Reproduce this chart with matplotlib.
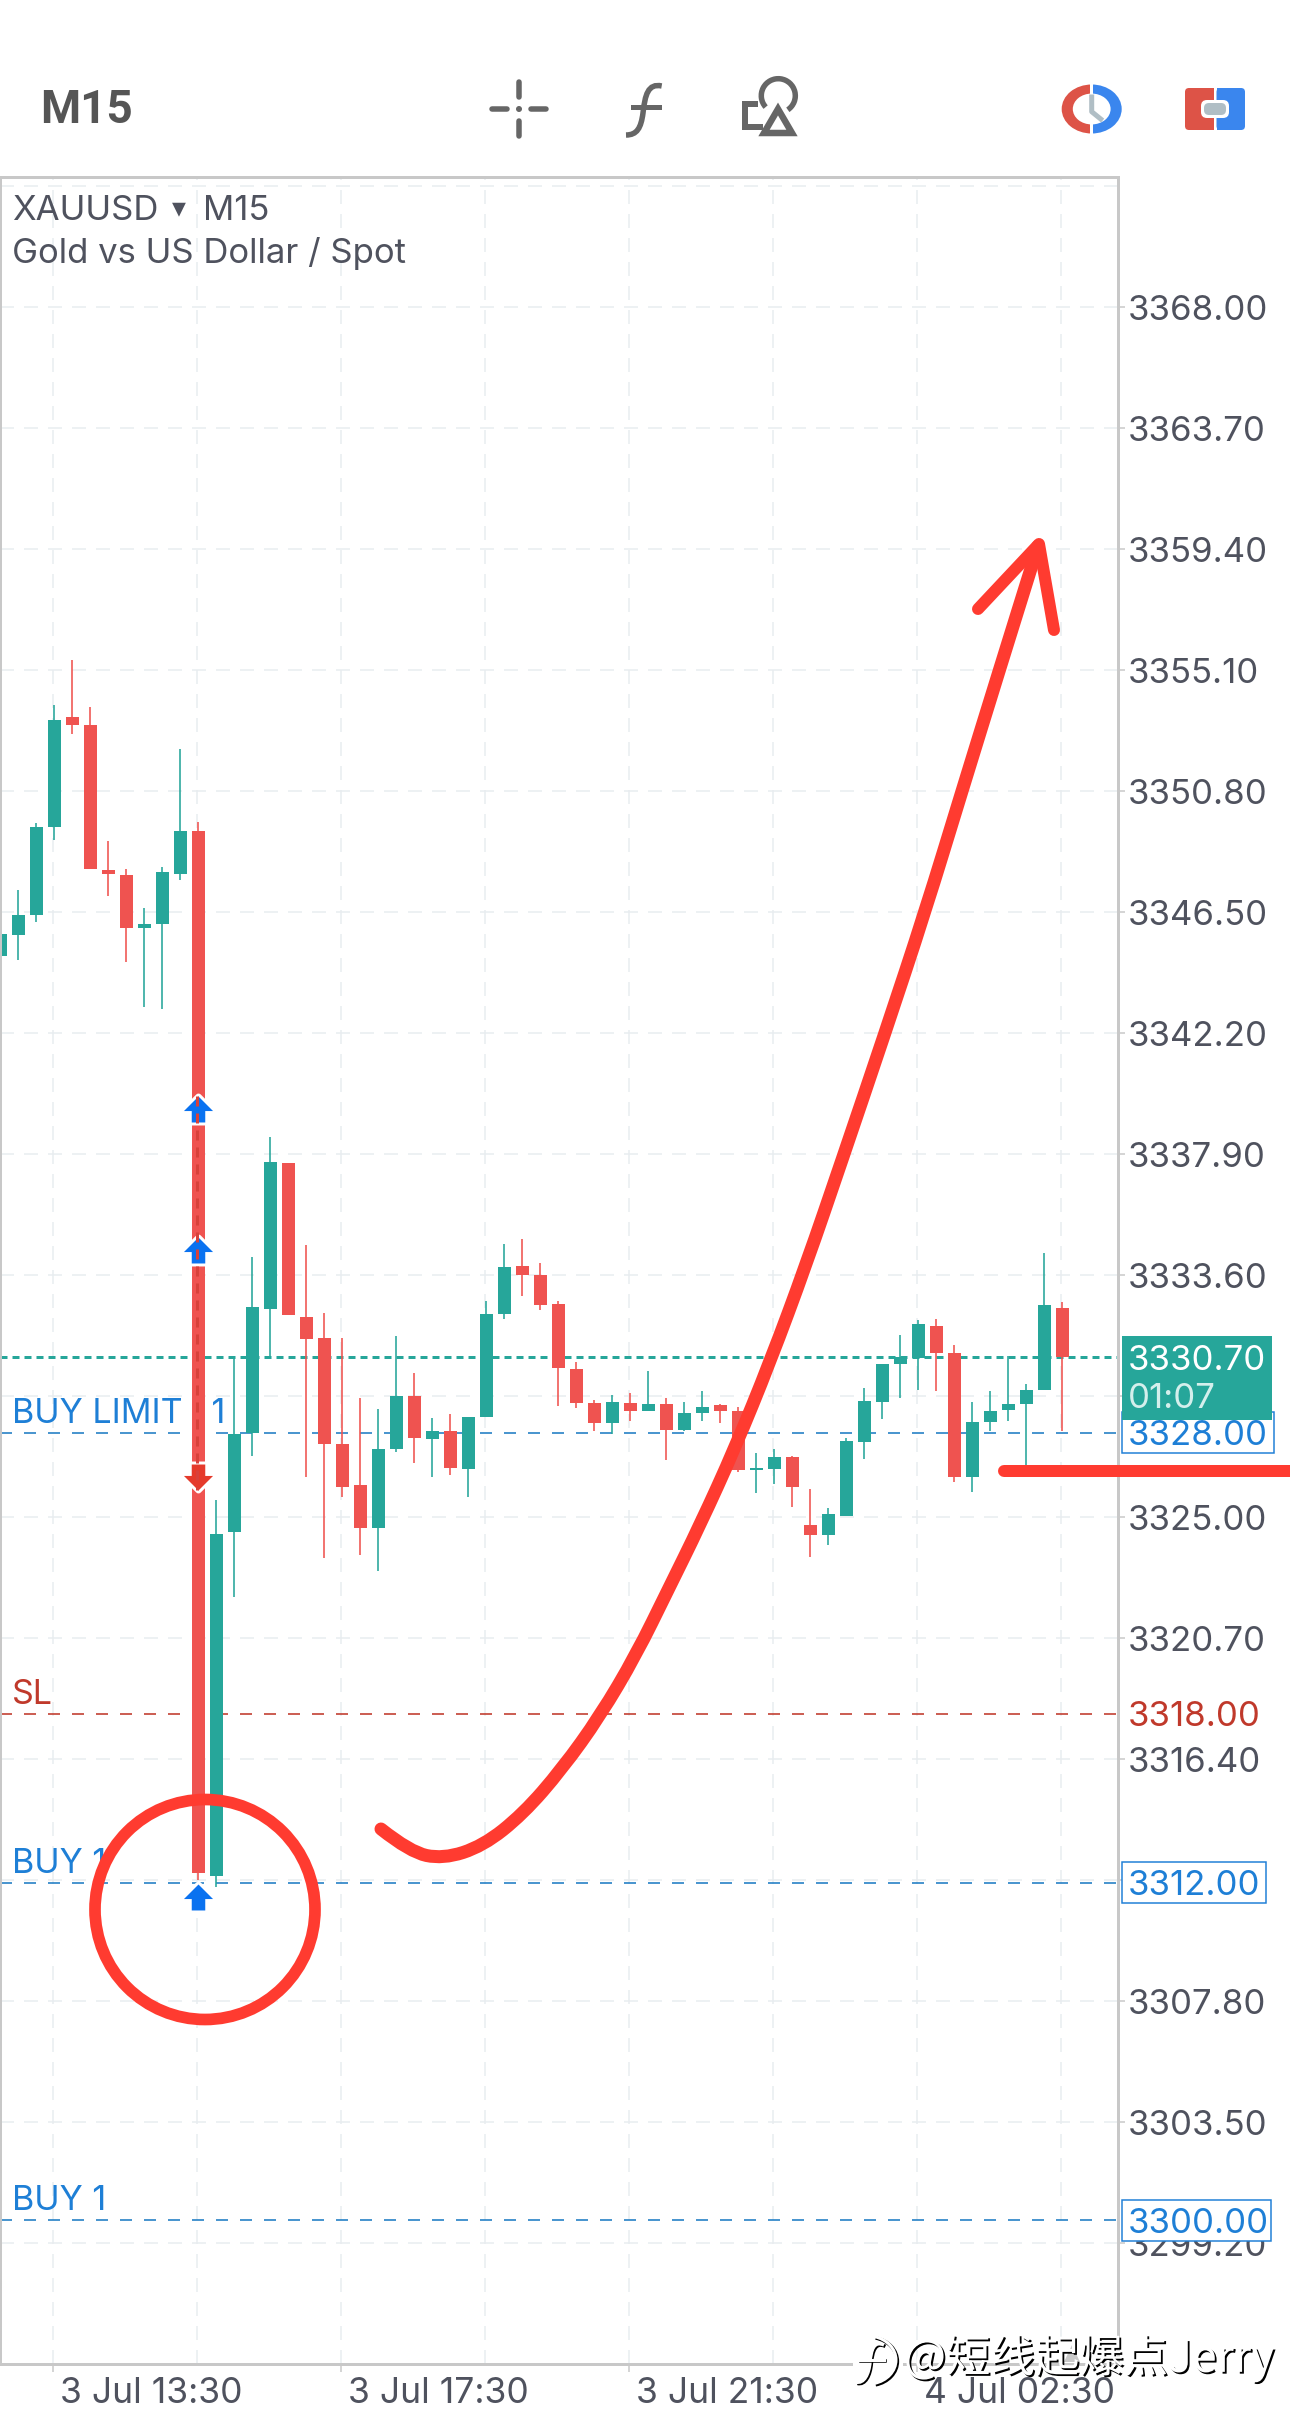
# XAUUSD M15 phone screenshot, candles plus the hand drawn red marks on top
import matplotlib
matplotlib.use("Agg")
import matplotlib.pyplot as plt
import matplotlib.patheffects as pe
import matplotlib.transforms as mtransforms
from matplotlib.patches import Rectangle, Circle, Arc, Polygon, PathPatch, Wedge, FancyBboxPatch
from matplotlib.path import Path

plt.rcParams['font.family'] = ['Inter', 'Noto Sans CJK SC', 'DejaVu Sans']
plt.rcParams['lines.scale_dashes'] = False

# candles, one per 15 minutes
opens = [3344.95, 3345.69, 3346.40, 3349.53, 3353.43, 3353.15, 3347.99, 3347.81, 3345.93, 3346.08,
         3347.85, 3349.38, 3312.25, 3324.48, 3327.97, 3332.40, 3337.58, 3332.11, 3331.36, 3327.59,
         3326.14, 3324.62, 3327.43, 3329.30, 3327.78, 3328.06, 3326.72, 3328.56, 3332.22, 3333.92,
         3333.60, 3332.57, 3330.26, 3329.05, 3328.35, 3329.05, 3328.78, 3329.02, 3328.10, 3328.71,
         3328.98, 3328.77, 3326.68, 3326.72, 3327.13, 3324.72, 3324.37, 3325.05, 3327.68, 3329.10,
         3330.45, 3330.64, 3331.79, 3330.83, 3326.43, 3328.39, 3328.81, 3329.03, 3329.52, 3332.43]
highs = [3346.04, 3347.28, 3349.67, 3353.86, 3355.46, 3353.80, 3349.03, 3348.04, 3346.64, 3348.11,
         3352.29, 3349.71, 3325.60, 3330.70, 3334.25, 3338.49, 3337.58, 3334.67, 3332.26, 3331.35,
         3329.23, 3328.84, 3331.43, 3330.11, 3328.53, 3328.66, 3328.55, 3332.68, 3334.70, 3334.89,
         3334.04, 3332.68, 3330.51, 3329.16, 3329.34, 3329.40, 3330.20, 3329.23, 3329.09, 3329.49,
         3329.02, 3328.92, 3327.26, 3327.41, 3327.17, 3326.01, 3325.32, 3327.81, 3329.58, 3330.44,
         3331.47, 3332.00, 3332.04, 3331.11, 3329.09, 3329.49, 3330.72, 3329.73, 3334.37, 3332.64]
lows = [3344.79, 3344.79, 3346.14, 3349.06, 3352.83, 3348.02, 3347.08, 3344.72, 3343.12, 3343.04,
        3347.64, 3312.10, 3311.85, 3322.16, 3327.18, 3330.70, 3332.19, 3326.41, 3323.53, 3325.70,
        3323.66, 3323.09, 3327.32, 3326.91, 3326.43, 3326.49, 3325.70, 3328.56, 3332.05, 3332.85,
        3332.36, 3328.94, 3328.88, 3328.07, 3327.94, 3328.40, 3328.78, 3327.03, 3328.05, 3328.40,
        3328.35, 3326.61, 3325.84, 3326.17, 3325.37, 3323.57, 3323.99, 3325.05, 3327.07, 3328.49,
        3329.24, 3329.51, 3329.49, 3326.25, 3325.90, 3328.07, 3328.42, 3326.85, 3329.52, 3328.07]
closes = [3345.71, 3346.39, 3349.52, 3353.32, 3353.15, 3348.04, 3347.85, 3345.94, 3346.07, 3347.92,
          3349.38, 3312.36, 3324.40, 3327.95, 3332.46, 3337.62, 3332.19, 3331.34, 3327.60, 3326.08,
          3324.62, 3327.42, 3329.30, 3327.82, 3328.06, 3326.75, 3328.55, 3332.21, 3333.88, 3333.61,
          3332.54, 3330.31, 3329.06, 3328.35, 3329.09, 3328.78, 3329.02, 3328.10, 3328.70, 3328.91,
          3328.78, 3326.68, 3326.73, 3327.13, 3326.08, 3324.37, 3325.11, 3327.70, 3329.12, 3330.44,
          3330.69, 3331.86, 3330.84, 3326.43, 3328.38, 3328.77, 3329.02, 3329.51, 3332.53, 3330.70]

price_ticks = [3372.30, 3368.00, 3363.70, 3359.40, 3355.10, 3350.80, 3346.50, 3342.20, 3337.90, 3333.60,
               3329.30, 3325.00, 3320.70, 3316.40, 3312.10, 3307.80, 3303.50, 3299.20]
# 3372.30, 3329.30 and 3312.10 sit behind the frame and the price tags in the screenshot
price_labels = ['', '3368.00', '3363.70', '3359.40', '3355.10', '3350.80', '3346.50', '3342.20', '3337.90',
                '3333.60', '', '3325.00', '3320.70', '3316.40', '', '3307.80', '3303.50', '3299.20']
time_ticks = [2.95, 18.95, 34.95, 50.95]
time_labels = ['3 Jul 13:30', '3 Jul 17:30', '3 Jul 21:30', '4 Jul 02:30']
time_minor = [10.95, 26.95, 42.95, 58.95]

last_price = 3330.70
order_prices = [3328.00, 3318.00, 3312.00, 3300.00]
# extra spaces keep the 1 clear of the long candle, as the app's wide tracking does
order_names = ['BUY LIMIT   1', 'SL', 'BUY 1', 'BUY 1']
order_colors = ['#1f7cc4', '#c0392b', '#1f7cc4', '#1f7cc4']

trade_bar = 11
buy_arrow_prices = [3339.96, 3334.94, 3311.96]
sell_arrow_prices = [3325.96]

UP = '#26a69a'
DOWN = '#ef5350'
GREY = '#c8c8c8'
INK = '#4f525e'
MARK = '#ff3b30'
ICON = '#666666'
TAG = '#1e7fd6'
PX = 0.72  # one picture pixel in points, at dpi 100

fig = plt.figure(figsize=(12.9, 24.3), dpi=100, facecolor='white')
ax = fig.add_axes([0, 1 - 2364 / 2430, 1118 / 1290, (2364 - 177) / 2430])
ax.set_xlim(-0.3 / 18, 1117.7 / 18)
ax.set_ylim(3294.90, 3372.62)

# grid and axes
ax.set_axisbelow(True)
ax.set_yticks(price_ticks)
ax.set_yticklabels(price_labels)
ax.set_xticks(time_ticks)
ax.set_xticklabels(time_labels)
ax.set_xticks(time_minor, minor=True)
ax.grid(True, which='both', color='#e8edf0', lw=1.5 * PX, ls=(0, (14 * PX, 10 * PX)))
ax.yaxis.tick_right()
ax.tick_params(axis='y', length=7 * PX, width=1.5 * PX, color=GREY, pad=3 * PX, labelsize=25, labelcolor=INK)
ax.tick_params(axis='x', which='major', length=8 * PX, width=1.5 * PX, color=GREY, pad=5 * PX, labelsize=25.5, labelcolor=INK)
ax.tick_params(axis='x', which='minor', length=0)
ax.yaxis.get_major_ticks()[0].tick2line.set_visible(False)
shift = mtransforms.ScaledTranslation(7 / 100, 0, fig.dpi_scale_trans)
for label in ax.get_xticklabels():
    label.set_ha('left')
    label.set_transform(label.get_transform() + shift)
for side in ax.spines.values():
    side.set_color(GREY)
    side.set_linewidth(3 * PX)

# order lines and the current price line, all below the candles
ax.axhline(last_price, color=UP, lw=3 * PX, ls=(0, (7 * PX, 5 * PX)), zorder=1)
for price, name, color in zip(order_prices, order_names, order_colors):
    ax.axhline(price, color=color, lw=1.6 * PX, ls=(0, (12 * PX, 12 * PX)), zorder=1)
    text_color = '#c0392b' if name == 'SL' else TAG
    ax.annotate(name, xy=(0, price), xycoords=ax.get_yaxis_transform(), xytext=(12 * PX, 10 * PX),
                textcoords='offset points', color=text_color, fontsize=24.5, zorder=1.5)

# candles
for i in range(len(opens)):
    color = UP if closes[i] >= opens[i] else DOWN
    ax.vlines(i, lows[i], highs[i], color=color, lw=1.6 * PX, zorder=2)
    ax.bar(i, abs(closes[i] - opens[i]), bottom=min(opens[i], closes[i]), width=13 / 18, color=color, zorder=2.1)

# trade arrows, tip sits on the price, white halo drawn first
up_arrow = Path([(0, 0), (0.56, -0.56), (0.26, -0.56), (0.26, -1), (-0.26, -1), (-0.26, -0.56), (-0.56, -0.56), (0, 0)], closed=True)
down_arrow = Path([(0, 0), (0.56, 0.56), (0.26, 0.56), (0.26, 1), (-0.26, 1), (-0.26, 0.56), (-0.56, 0.56), (0, 0)], closed=True)
ax.scatter([trade_bar] * len(buy_arrow_prices), buy_arrow_prices, marker=up_arrow, s=1400, color='white',
           edgecolors='white', linewidths=6 * PX, zorder=3.9)
ax.scatter([trade_bar] * len(sell_arrow_prices), sell_arrow_prices, marker=down_arrow, s=1400, color='white',
           edgecolors='white', linewidths=6 * PX, zorder=3.9)
ax.scatter([trade_bar] * len(buy_arrow_prices), buy_arrow_prices, marker=up_arrow, s=1400, color='#0a72f0',
           linewidths=0, zorder=4)
ax.scatter([trade_bar] * len(sell_arrow_prices), sell_arrow_prices, marker=down_arrow, s=1400, color='#e53a2b',
           linewidths=0, zorder=4)
ax.plot([trade_bar - 0.06, trade_bar - 0.06], [buy_arrow_prices[0], sell_arrow_prices[0]], color='#d8413a',
        lw=3 * PX, ls=(0, (10 * PX, 7 * PX)), zorder=5)

# overlay in picture pixels, for app icons, price tags and the hand drawn marks
over = fig.add_axes([0, 0, 1, 1], facecolor='none')
over.set_xlim(0, 1290)
over.set_ylim(2430, 0)
over.axis('off')
tag = mtransforms.blended_transform_factory(over.transData, ax.transData)

for price, width in [(3328.00, 152), (3312.00, 144), (3300.00, 149)]:
    over.add_patch(Rectangle((1122, price - 0.73), width, 1.46, transform=tag, fc='white', ec=TAG, lw=1.5 * PX, zorder=2))
    over.text(1128, price, '%.2f' % price, transform=tag, color=TAG, fontsize=25, va='center_baseline', zorder=3)
over.text(1128, 3318.00, '3318.00', transform=tag, color='#c0392b', fontsize=25, va='center_baseline', zorder=3)
over.add_patch(Rectangle((1122, 1336), 150, 84, fc=UP, ec='none', zorder=3))
over.text(1128, 1357, '3330.70', color='white', fontsize=25, va='center_baseline', zorder=4)
over.text(1128, 1395, '01:07', color='#d4efec', fontsize=25, va='center_baseline', zorder=4)

# header text
over.text(40, 110, 'M15', color='#555555', fontsize=33, family='Roboto', weight='bold', va='center')
over.text(12, 211, 'XAUUSD', color=INK, fontsize=25, va='center')
over.text(172, 208, '▾', color=INK, fontsize=20, va='center', family='DejaVu Sans')
over.text(203, 211, 'M15', color=INK, fontsize=25, va='center')
over.text(12, 254, 'Gold vs US Dollar / Spot', color=INK, fontsize=25, va='center')

# crosshair icon
for xs, ys in [((492, 507), (109, 109)), ((531, 546), (109, 109)), ((519, 519), (82, 97)), ((519, 519), (121, 136))]:
    over.plot(xs, ys, color=ICON, lw=5.5 * PX, solid_capstyle='round')
over.add_patch(Circle((519, 109), 3, fc=ICON, ec='none'))

# f icon
f_shape = Path([(661.7, 86), (648, 83), (645, 95), (643, 113), (641, 128), (637, 135), (626, 135)],
               [Path.MOVETO, Path.CURVE4, Path.CURVE4, Path.CURVE4, Path.CURVE4, Path.CURVE4, Path.CURVE4])
over.add_patch(PathPatch(f_shape, fc='none', ec=ICON, lw=5.5 * PX))
over.plot([633.3, 658.7], [106.7, 106.7], color=ICON, lw=5 * PX)

# objects icon
over.add_patch(Arc((778.3, 95.7), 34, 34, theta1=138, theta2=416, color=ICON, lw=5.5 * PX))
over.add_patch(Polygon([(778, 109), (764, 133), (792, 133)], closed=True, fc='none', ec=ICON, lw=6.5 * PX))
over.plot([755, 745, 745, 760], [104, 104, 127, 127], color=ICON, lw=6 * PX, solid_joinstyle='miter')

# clock icon, the ring is a little wider than tall
ring = mtransforms.Affine2D().scale(30, 24.5).translate(1091.7, 109) + over.transData
over.add_patch(Wedge((0, 0), 1, 90, 270, width=0.37, fc='#dd5347', ec='none', transform=ring))
over.add_patch(Wedge((0, 0), 1, -90, 90, width=0.37, fc='#3a86ee', ec='none', transform=ring))
over.add_patch(Rectangle((1090.2, 80), 3, 58, fc='white', ec='none'))
over.plot([1091.7, 1091.7, 1100.7], [97, 111.7, 119], color='#b0bec5', lw=5 * PX)

# card icon
over.add_patch(FancyBboxPatch((1189, 92), 20.5, 34, boxstyle='round,pad=4', fc='#dd5347', ec='none'))
over.add_patch(Rectangle((1200, 88), 13.5, 42, fc='#dd5347', ec='none'))
over.add_patch(FancyBboxPatch((1220.5, 92), 20.5, 34, boxstyle='round,pad=4', fc='#3a86ee', ec='none'))
over.add_patch(Rectangle((1216.5, 88), 14, 42, fc='#3a86ee', ec='none'))
over.add_patch(FancyBboxPatch((1207, 106), 16, 6, boxstyle='round,pad=6', fc='white', ec='none'))
over.add_patch(FancyBboxPatch((1209, 108), 12, 2, boxstyle='round,pad=5', fc='#b0bec5', ec='none'))

# hand drawn swoosh, smoothed through quadratic segments
swoosh = [(381, 1829), (410, 1852), (443, 1859), (483, 1846), (523, 1814), (562, 1769), (600, 1716), (636, 1655),
          (668, 1590), (700, 1525), (735, 1448), (770, 1362), (806, 1265), (842, 1160), (885, 1033), (925, 912),
          (962, 791), (1000, 668), (1038, 546)]
verts = [swoosh[0]]
codes = [Path.MOVETO]
for a, b in zip(swoosh[1:-1], swoosh[2:]):
    verts += [a, ((a[0] + b[0]) / 2, (a[1] + b[1]) / 2)]
    codes += [Path.CURVE3, Path.CURVE3]
verts.append(swoosh[-1])
codes.append(Path.LINETO)
over.add_patch(PathPatch(Path(verts, codes), fc='none', ec=MARK, lw=13 * PX, capstyle='round', joinstyle='round', zorder=6))
over.plot([978, 1039, 1054], [609, 544, 630], color=MARK, lw=12 * PX, solid_capstyle='round', solid_joinstyle='round', zorder=6)
over.add_patch(Circle((205, 1909.5), 110, fc='none', ec=MARK, lw=11.7 * PX, zorder=6))
over.plot([1004, 1290], [1471, 1471], color=MARK, lw=12 * PX, solid_capstyle='round', zorder=6)

# watermark with its logo, white with a dark edge
over.add_patch(Polygon([(1064, 2362), (1080, 2362), (1072, 2345)], closed=True, fc=GREY, ec='none', zorder=5))
over.add_patch(Rectangle((853, 2355), 50, 20, fc='white', ec='none', zorder=6))
stroke_edge = [pe.Stroke(linewidth=3.5 * PX, foreground='black', offset=(1, -1)), pe.Normal()]
logo = Path([(884, 2345), (874, 2340), (871, 2350), (870, 2362), (869, 2374), (864, 2384), (856, 2382)],
            [Path.MOVETO, Path.CURVE4, Path.CURVE4, Path.CURVE4, Path.CURVE4, Path.CURVE4, Path.CURVE4])
over.add_patch(PathPatch(logo, fc='none', ec='white', lw=3.5 * PX, zorder=7, path_effects=stroke_edge))
over.plot([860, 884], [2360, 2360], color='white', lw=3 * PX, zorder=7, path_effects=stroke_edge)
over.add_patch(Arc((868, 2360), 56, 48, theta1=-75, theta2=75, color='white', lw=3 * PX, zorder=7, path_effects=stroke_edge))
edge = [pe.withSimplePatchShadow(offset=(1.3, -1.3), shadow_rgbFace='black', alpha=1.0)]
over.text(904, 2358, '@短线起爆点Jerry', family=['Noto Sans CJK SC', 'DejaVu Sans'], color='white', fontsize=32,
          va='center', zorder=7, path_effects=edge)

fig.savefig('out.png', dpi=100)
